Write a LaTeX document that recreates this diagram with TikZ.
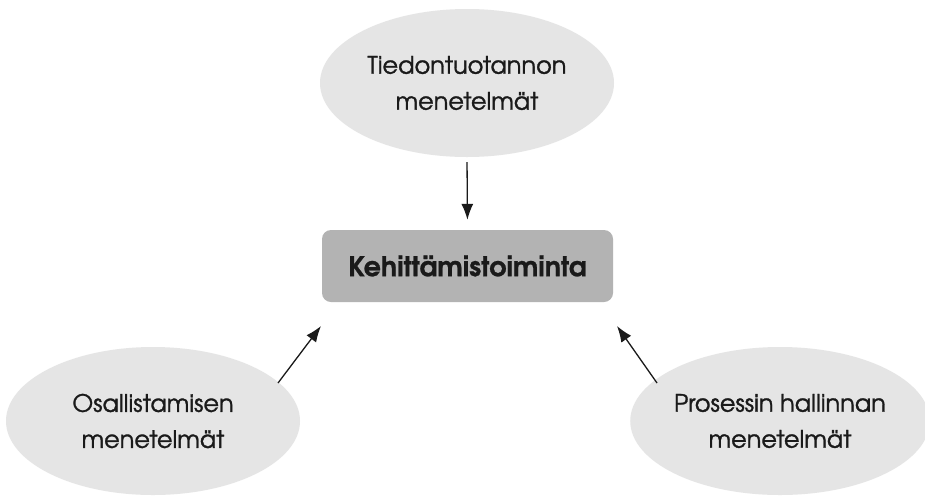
\documentclass[tikz,border=0pt]{standalone}
\usepackage{fontspec}
\setmainfont{TeX Gyre Adventor}
\newfontfamily\ovaltext[FakeBold=1.2]{TeX Gyre Adventor}
\newfontfamily\coretext[BoldFeatures={FakeBold=0.8}]{TeX Gyre Adventor}
\usetikzlibrary{shapes.geometric,arrows.meta}
\definecolor{ovalfill}{HTML}{E5E5E5}
\definecolor{boxfill}{HTML}{B3B3B3}
\definecolor{ink}{HTML}{1A1A1A}
\begin{document}
\begin{tikzpicture}[x=1pt,y=-1pt,
  oval/.style={ellipse,fill=ovalfill,minimum width=294pt,minimum height=148pt,
    inner sep=0pt,align=center,text=ink,font=\ovaltext\fontsize{24}{36}\selectfont},
  core/.style={rectangle,rounded corners=9pt,fill=boxfill,minimum width=291pt,
    minimum height=72pt,text=ink,font=\coretext\fontsize{27}{30}\selectfont\bfseries},
  link/.style={draw=ink,line width=1.3pt,-{Latex[length=16pt,width=12pt]}}]
  \useasboundingbox[fill=white] (0,0) rectangle (925,496);
  \node[oval] (tieto) at (467,83) {Tiedontuotannon\\menetelmät};
  \node[core] (kehi) at (467.5,266) {Kehittämistoiminta};
  \node[oval] (osal) at (153,421) {Osallistamisen\\menetelmät};
  \node[oval] (pros) at (780,421) {Prosessin hallinnan\\menetelmät};
  % arrow ends beside the lower corners of the central box
  \coordinate (osaltail) at (278,383);
  \coordinate (osalend) at (321,326);
  \coordinate (prostail) at (657,383);
  \coordinate (prosend) at (617,326);
  \draw[link,shorten <=5pt,shorten >=10pt] (tieto.south) -- (kehi.north);
  \draw[link] (osaltail) -- (osalend);
  \draw[link] (prostail) -- (prosend);
\end{tikzpicture}
\end{document}
